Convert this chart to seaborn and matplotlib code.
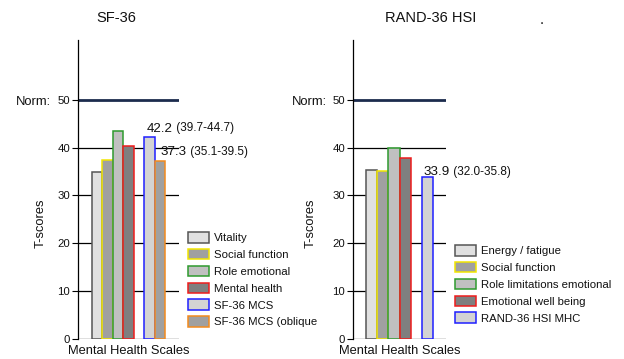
import matplotlib
matplotlib.use("Agg")
import matplotlib.pyplot as plt
import matplotlib.transforms as mtransforms
from matplotlib.patches import Patch
import seaborn as sns
import pandas as pd

# ---------------- data ----------------
sf_labels = ["Vitality", "Social function", "Role emotional", "Mental health",
             "SF-36 MCS", "SF-36 MCS (oblique"]
sf_values = [35.0, 37.5, 43.4, 40.3, 42.2, 37.3]
sf_fill = ["#e0e0e0", "#a0a0a0", "#c0c0c0", "#7f7f7f", "#d3d3d3", "#a0a0a0"]
sf_edge = ["#555555", "#f2e600", "#2e9a2e", "#ee1c1c", "#1f1fff", "#f28a1e"]

rand_labels = ["Energy / fatigue", "Social function", "Role limitations emotional",
               "Emotional well being", "RAND-36 HSI MHC"]
rand_values = [35.4, 35.2, 40.0, 37.8, 33.9]
rand_fill = ["#e0e0e0", "#a0a0a0", "#c0c0c0", "#7f7f7f", "#d3d3d3"]
rand_edge = ["#555555", "#f2e600", "#2e9a2e", "#ee1c1c", "#1f1fff"]

sf_notes = [("42.2", " (39.7-44.7)"), ("37.3", " (35.1-39.5)")]
rand_notes = [("33.9", " (32.0-35.8)")]

yticks = [0, 10, 20, 30, 40, 50]
norm_value = 50

# ---------------- style ----------------
sns.set_theme(style="white")
plt.rcParams["font.family"] = ["Liberation Sans", "DejaVu Sans"]

W, H = 624, 359
fig = plt.figure(figsize=(W / 100, H / 100), dpi=100)
fig.patch.set_facecolor("white")


def px_axes(x0, x1, ytop, ybot):
    return fig.add_axes([x0 / W, 1 - ybot / H, (x1 - x0) / W, (ybot - ytop) / H])


def panel(ax, labels, values, fills, edges, gap_index, xlim, title, title_x,
          norm_x, ylabel_x):
    order = labels[:gap_index] + [""] + labels[gap_index:]
    df = pd.DataFrame({"scale": labels, "score": values})
    sns.barplot(data=df, x="scale", y="score", hue="scale", order=order,
                hue_order=labels, palette=dict(zip(labels, fills)),
                width=1.0, dodge=False, legend=False, ax=ax, errorbar=None,
                saturation=1.0)
    for cont, ec in zip(ax.containers, edges):
        for bar in cont:
            bar.set_edgecolor(ec)
            bar.set_linewidth(1.1)
            bar.set_zorder(3)
    ax.set_xlim(*xlim)
    ax.set_ylim(0, 62.5)
    ax.set_xticks([])
    ax.set_yticks(yticks)
    ax.set_yticklabels([str(t) for t in yticks])
    ax.tick_params(axis="y", left=True, direction="out", length=4.3, width=0.8,
                   color="black", labelsize=8.2, pad=1.5, labelcolor="#111111")
    for s in ["top", "right", "bottom"]:
        ax.spines[s].set_visible(False)
    ax.spines["left"].set_color("black")
    ax.spines["left"].set_linewidth(0.9)
    ax.set_facecolor("white")
    for t in yticks[:-1]:
        ax.axhline(t, color="black", lw=0.9, zorder=1)
    ax.axhline(norm_value, color="#1c2b4d", lw=2.0, zorder=2)
    ax.set_xlabel("Mental Health Scales", fontsize=9.3, labelpad=4.5,
                  color="#111111")
    ax.set_ylabel("T-scores", fontsize=9.3, color="#111111")
    ax.yaxis.set_label_coords(ylabel_x, 0.388)
    ax.text(title_x, 1.0736, title, transform=ax.transAxes, ha="center",
            va="center", fontsize=10.5, color="#111111")
    blend = mtransforms.blended_transform_factory(ax.transAxes, ax.transData)
    ax.text(norm_x, norm_value - 0.4, "Norm:", transform=blend, ha="left",
            va="center", fontsize=9.4, color="#111111")


def note(ax, xpos, yval, parts, off):
    t1 = ax.annotate(parts[0], xy=(xpos, yval), xycoords="data",
                     xytext=off, textcoords="offset points", ha="left",
                     va="baseline", fontsize=9.6, color="#111111",
                     annotation_clip=False)
    ax.annotate(parts[1], xy=(1, 0), xycoords=t1, xytext=(0, 0.25),
                textcoords="offset points", ha="left", va="bottom",
                fontsize=8.5, color="#111111", annotation_clip=False)


# left panel
ax1 = px_axes(78, 179, 40, 339)
panel(ax1, sf_labels, sf_values, sf_fill, sf_edge, 4, (-1.833, 7.786),
      "SF-36", 0.376, -0.614, -0.31)
note(ax1, 5, sf_values[4], sf_notes[0], (-2.0, 4.0))
note(ax1, 6, sf_values[5], sf_notes[1], (0.4, 4.0))

# right panel
ax2 = px_axes(353, 446, 40, 339)
panel(ax2, rand_labels, rand_values, rand_fill, rand_edge, 4, (-1.66, 6.66),
      "RAND-36 HSI", 0.83, -0.656, -0.39)
note(ax2, 5, rand_values[4], rand_notes[0], (-2.9, 1.4))
fig.text(542 / W, 1 - 20 / H, ".", ha="center", va="center", fontsize=10.5,
         color="#111111")


def legend(labels, fills, edges, x0, ytop):
    handles = [Patch(facecolor=f, edgecolor=e, linewidth=1.1)
               for f, e in zip(fills, edges)]
    fig.legend(handles, labels, loc="upper left",
               bbox_to_anchor=(x0 / W, 1 - ytop / H),
               bbox_transform=fig.transFigure, frameon=False, borderpad=0,
               borderaxespad=0, handlelength=1.84, handleheight=1.05,
               handletextpad=0.44, labelspacing=0.5, fontsize=8.2,
               labelcolor="#111111")


legend(sf_labels, sf_fill, sf_edge, 188, 232)
legend(rand_labels, rand_fill, rand_edge, 455, 245)

fig.savefig("out.png", dpi=100, facecolor="white")
